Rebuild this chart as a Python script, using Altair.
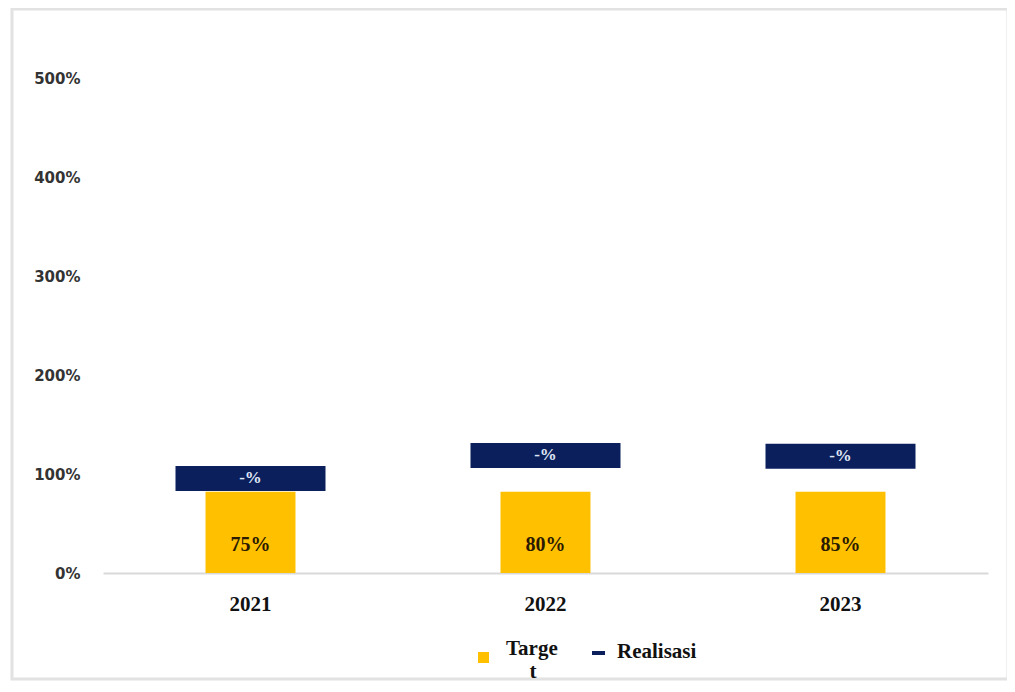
import altair as alt
import pandas as pd

# ---- data ----
years = ["2021", "2022", "2023"]
target_heights = [82, 82, 82]          # drawn bar heights (%)
target_labels = ["75%", "80%", "85%"]  # data labels shown on bars
realisasi = [95.5, 118.7, 118.0]       # centre of the Realisasi markers (%)
realisasi_labels = ["-%", "-%", "-%"]
y_ticks = [0, 100, 200, 300, 400, 500]
legend_names = ["Target", "Realisasi"]

GOLD = "#FFC000"
NAVY = "#0B1F5C"
SERIF = "Liberation Serif"

df = pd.DataFrame({
    "year": years,
    "target": target_heights,
    "tlabel": target_labels,
    "real": realisasi,
    "rlabel": realisasi_labels,
})
one = pd.DataFrame({"k": [0]})

x_enc = alt.X(
    "year:N",
    sort=years,
    scale=alt.Scale(paddingInner=0.695, paddingOuter=0.3475),
    axis=alt.Axis(
        title=None, labelAngle=0, ticks=False, tickSize=0, labelPadding=20,
        labelFont=SERIF, labelFontSize=21, labelFontWeight="bold", labelColor="#111111",
        domainColor="#d9d9d9", domainWidth=2,
    ),
)
y_scale = alt.Scale(domain=[0, 500], nice=False)
y_enc = alt.Y(
    "target:Q",
    scale=y_scale,
    axis=alt.Axis(
        title=None, values=y_ticks, labelExpr="datum.value + '%'", grid=False,
        domain=False, ticks=False, tickSize=0, labelPadding=23,
        labelFont="DejaVu Sans", labelFontSize=15, labelFontWeight="bold",
        labelColor="#333333",
    ),
)

base = alt.Chart(df)

bars = base.mark_bar(color=GOLD).encode(x=x_enc, y=y_enc)

tlabels = base.mark_text(
    font=SERIF, fontSize=20, fontWeight="bold", color="#2a1a00", dy=-28
).encode(x=alt.X("year:N", sort=years), y=alt.datum(0, scale=y_scale), text="tlabel:N")

ticks = base.mark_tick(thickness=25, size=150, color=NAVY, opacity=1).encode(
    x=alt.X("year:N", sort=years), y=alt.Y("real:Q", scale=y_scale)
)

rlabels = base.mark_text(
    font=SERIF, fontSize=17, fontWeight="bold", color="#dfe6f5"
).encode(x=alt.X("year:N", sort=years), y=alt.Y("real:Q", scale=y_scale), text="rlabel:N")

# ---- manual legend ----
leg_sq = alt.Chart(one).mark_rect(color=GOLD).encode(
    x=alt.value(375), x2=alt.value(386), y=alt.value(574), y2=alt.value(585)
)
leg_t1 = alt.Chart(one).mark_text(
    font=SERIF, fontSize=21, fontWeight="bold", align="left", baseline="middle", color="#111111"
).encode(x=alt.value(403), y=alt.value(571), text=alt.value(legend_names[0][:5]))
leg_t2 = alt.Chart(one).mark_text(
    font=SERIF, fontSize=21, fontWeight="bold", align="center", baseline="middle", color="#111111"
).encode(x=alt.value(430), y=alt.value(594), text=alt.value(legend_names[0][5:]))
leg_dash = alt.Chart(one).mark_rect(color=NAVY).encode(
    x=alt.value(489), x2=alt.value(502), y=alt.value(573), y2=alt.value(577)
)
leg_t3 = alt.Chart(one).mark_text(
    font=SERIF, fontSize=21, fontWeight="bold", align="left", baseline="middle", color="#111111"
).encode(x=alt.value(514), y=alt.value(574), text=alt.value(legend_names[1]))

border = alt.Chart(one).mark_rect(fill=None, stroke="#e2e2e2", strokeWidth=3).encode(
    x=alt.value(-91), x2=alt.value(905), y=alt.value(-69), y2=alt.value(601)
)

chart = alt.layer(
    border, bars, tlabels, ticks, rlabels, leg_sq, leg_t1, leg_t2, leg_dash, leg_t3
).properties(
    width=885, height=495,
    autosize=alt.AutoSizeParams(type="none"),
    padding={"left": 95, "top": 70, "right": 19, "bottom": 110},
).configure(
    background="white"
).configure_view(
    strokeWidth=0, stroke="transparent"
)

chart.save("out.html", embed_options={"renderer": "svg", "actions": False})
